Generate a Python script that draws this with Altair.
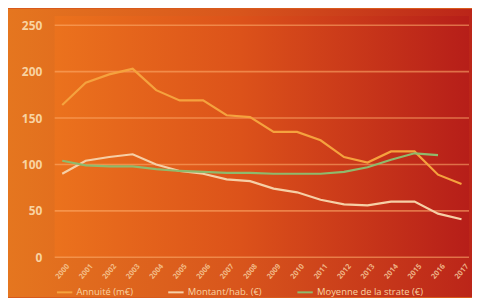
import altair as alt
import pandas as pd

years = [str(y) for y in range(2000, 2018)]
series_names = ["Annuité (m€)", "Montant/hab. (€)", "Moyenne de la strate (€)"]
annuite = [164, 188, 197, 203, 180, 169, 169, 153, 151, 135, 135, 126, 108, 102, 114, 114, 89, 79]
montant = [90, 104, 108, 111, 100, 93, 90, 84, 82, 74, 70, 62, 57, 56, 60, 60, 47, 41]
moyenne = [104, 99, 98, 98, 95, 93, 92, 91, 91, 90, 90, 90, 92, 97, 105, 112, 110, None]
y_ticks = [0, 50, 100, 150, 200, 250]
line_colors = ["#f5a23e", "#f6cfa6", "#8fba6c"]

rows = []
for name, vals in zip(series_names, [annuite, montant, moyenne]):
    for yr, v in zip(years, vals):
        if v is not None:
            rows.append({"year": yr, "value": v, "series": name})
df = pd.DataFrame(rows)
grid_df = pd.DataFrame({"value": y_ticks})

W, H = 417, 243
PAD = {"left": 47, "top": 7, "right": 3, "bottom": 40}
label_col = "#f8d3a2"

yscale = alt.Scale(domain=[0, 260], nice=False, zero=True)
yaxis = alt.Axis(values=y_ticks, grid=False, domain=False, ticks=False, title=None,
                 labelColor=label_col, labelFont="Open Sans", labelFontSize=12,
                 labelFontWeight="bold", labelPadding=13, zindex=1)
xaxis = alt.Axis(grid=False, domain=False, ticks=False, title=None, labelAngle=-50,
                 labelAlign="center", labelBaseline="middle", labelPadding=14,
                 labelColor=label_col, labelFont="Open Sans", labelFontSize=7.5,
                 labelFontWeight="bold", labelOpacity=0.8, zindex=1)

one = alt.Data(values=[{}])
bg = alt.Chart(one).mark_rect(
    clip=False,
    color=alt.Gradient(gradient="linear", x1=0, x2=1, y1=0, y2=0,
                       stops=[alt.GradientStop(offset=0, color="#e5761f"),
                              alt.GradientStop(offset=0.5, color="#d8551c"),
                              alt.GradientStop(offset=1, color="#bb2519")])
).encode(x=alt.value(-PAD["left"]), x2=alt.value(W + PAD["right"]),
         y=alt.value(-PAD["top"]), y2=alt.value(H + PAD["bottom"]))

plot_bg = alt.Chart(one).mark_rect(
    color=alt.Gradient(gradient="linear", x1=0, x2=1, y1=0, y2=0,
                       stops=[alt.GradientStop(offset=0, color="#eb721d"),
                              alt.GradientStop(offset=0.45, color="#dc521a"),
                              alt.GradientStop(offset=1, color="#b61e19")])
).encode(x=alt.value(0), x2=alt.value(W), y=alt.value(0), y2=alt.value(H))

grid = alt.Chart(grid_df).mark_rule(color="#ffb070", strokeWidth=1.6, opacity=0.55).encode(
    y=alt.Y("value:Q", scale=yscale, axis=yaxis),
    x=alt.value(0), x2=alt.value(W))

lines = alt.Chart(df).mark_line(strokeWidth=2.2).encode(
    x=alt.X("year:O", sort=years, scale=alt.Scale(type="point", padding=0.32), axis=xaxis),
    y=alt.Y("value:Q", scale=yscale, axis=yaxis),
    color=alt.Color("series:N", sort=series_names,
                    scale=alt.Scale(domain=series_names, range=line_colors),
                    legend=alt.Legend(orient="none", legendX=1, legendY=269,
                                      direction="horizontal", title=None,
                                      symbolType="stroke", symbolStrokeWidth=2,
                                      symbolSize=240, labelColor=label_col,
                                      labelFont="Open Sans", labelFontSize=9.5,
                                      labelOffset=3, columnPadding=31, labelLimit=300)))

chart = alt.layer(bg, plot_bg, grid, lines).properties(
    width=W, height=H,
    autosize=alt.AutoSizeParams(type="none"),
    padding=PAD,
    background="#d85a1c",
).configure_view(stroke=None)

chart.save("out.html", embed_options={"renderer": "svg", "actions": False})
